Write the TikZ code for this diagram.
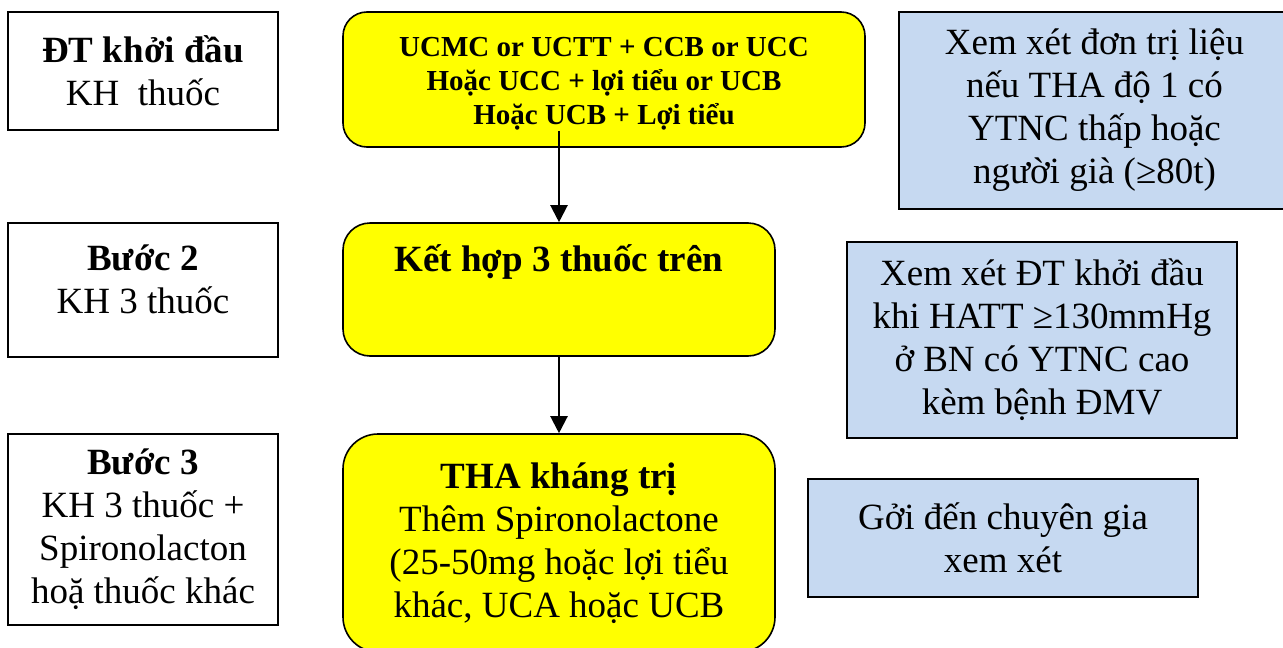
\documentclass[tikz,border=0pt]{standalone}
\usepackage{fontspec}
\setmainfont{Liberation Serif}
\usetikzlibrary{arrows.meta}
\definecolor{paleblue}{RGB}{198,217,241}
\definecolor{drugyellow}{RGB}{255,255,0}

\begin{document}
\begin{tikzpicture}[x=1pt,y=-1pt,
    every node/.style={align=center, inner sep=0pt, line width=1.6pt,
        font=\fontsize{37}{43}\selectfont},
    stepbox/.style={draw, fill=white},
    drugbox/.style={draw, fill=drugyellow, rounded corners=#1},
    notebox/.style={draw, fill=paleblue},
    arr/.style={line width=2.2pt, -{Triangle[width=17pt,length=17pt]}}]
    \useasboundingbox (0,0) rectangle (1283,648);
    \clip (0,0) rectangle (1283,648);
    \fill[white] (0,0) rectangle (1283,648);

    \node[stepbox, minimum width=270pt, minimum height=118pt] (s1) at (143,71)
        {\textbf{ĐT khởi đầu}\\KH~~thuốc};
    \node[stepbox, minimum width=270pt, minimum height=134pt, text depth=22pt] (s2) at (143,290)
        {\textbf{Bước 2}\\KH 3 thuốc};
    \node[stepbox, minimum width=270pt, minimum height=191pt] (s3) at (143,529.5)
        {\textbf{Bước 3}\\KH 3 thuốc +\\Spironolacton\\hoặ thuốc khác};

    \node[drugbox=24pt, minimum width=522pt, minimum height=135pt, text height=95pt,
        font=\fontsize{29}{34}\selectfont\bfseries] (d1) at (604,79.5)
        {UCMC or UCTT + CCB or UCC\\Hoặc UCC + lợi tiểu or UCB\\Hoặc UCB + Lợi tiểu};
    \node[drugbox=27pt, minimum width=432pt, minimum height=133pt, text depth=63pt,
        font=\fontsize{37}{43}\selectfont\bfseries] (d2) at (559,289.5)
        {Kết hợp 3 thuốc trên};
    \node[drugbox=35pt, minimum width=432pt, minimum height=218pt] (d3) at (559,543)
        {\textbf{THA kháng trị}\\Thêm Spironolactone\\(25-50mg hoặc lợi tiểu\\khác, UCA hoặc UCB};

    \node[notebox, minimum width=391pt, minimum height=197pt] (n1) at (1094.5,110.5)
        {Xem xét đơn trị liệu\\nếu THA độ 1 có\\YTNC thấp hoặc\\người già (≥80t)};
    \node[notebox, minimum width=390pt, minimum height=196pt] (n2) at (1042,340)
        {Xem xét ĐT khởi đầu\\khi HATT ≥130mmHg\\ở BN có YTNC cao\\kèm bệnh ĐMV};
    \node[notebox, minimum width=390pt, minimum height=118pt] (n3) at (1003,538)
        {Gởi đến chuyên gia\\xem xét};

    \coordinate (a1) at ([yshift=17pt]d1.south);
    \draw[arr] (a1 -| d2.north) -- (d2.north);
    \draw[arr] (d2.south) -- (d3.north);
\end{tikzpicture}
\end{document}
